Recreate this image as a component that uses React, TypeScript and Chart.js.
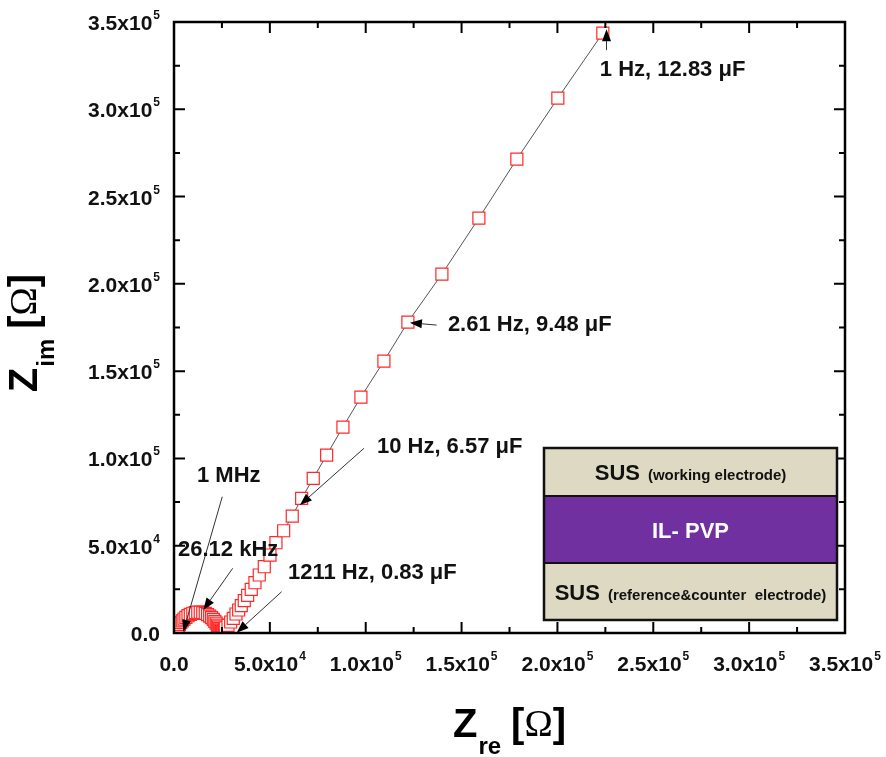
import React, { useEffect, useRef } from "react";
import { Chart, registerables } from "chart.js";

Chart.register(...registerables);

const CANVAS_W = 886;
const CANVAS_H = 757;

// Nyquist data (Z_re, Z_im) in ohm, ordered from high to low frequency
const zRe = [
  1000, 1300, 1700, 2200, 2800, 3500, 4300, 5200, 6200, 7300, 8500, 9800,
  11100, 12400, 13700, 15000, 16300, 17500, 18600, 19600, 20500, 21300, 22000,
  22600, 23100, 23600, 24000, 24400, 24800, 25200, 25600, 26000, 26400,
  26750, 28160, 29560, 30920, 32330, 33730, 35090, 36650, 38430, 40300, 42230,
  44470, 47080, 50050, 53180, 57200, 61680, 66580, 72630, 79620, 88120, 97500,
  109490, 122000, 139740, 159030, 178840, 200220, 223680,
];
const zIm = [
  400, 1500, 2600, 3700, 4800, 5900, 7000, 8000, 9000, 9900, 10700, 11300,
  11700, 11900, 11900, 11700, 11200, 10500, 9700, 8800, 7800, 6700, 5600,
  4500, 3500, 2600, 1800, 1200, 800, 700, 900, 1300, 2000,
  2860, 4410, 6300, 8420, 10880, 13170, 15630, 18500, 21590, 25030, 28800,
  33220, 37970, 44670, 51710, 58580, 66990, 77130, 88590, 101940, 117980, 135160,
  155770, 178110, 205600, 237670, 271460, 306390, 343620,
];

const axisMin = 0;
const axisMax = 350000;
const minorStep = 25000;

const tickValues = [0, 50000, 100000, 150000, 200000, 250000, 300000, 350000];
const tickBase = ["0.0", "5.0x10", "1.0x10", "1.5x10", "2.0x10", "2.5x10", "3.0x10", "3.5x10"];
const tickExp = ["", "4", "5", "5", "5", "5", "5", "5"];

const annotationLabels = [
  "1 Hz, 12.83 \u03bcF",
  "2.61 Hz, 9.48 \u03bcF",
  "10 Hz, 6.57 \u03bcF",
  "1 MHz",
  "26.12 kHz",
  "1211 Hz, 0.83 \u03bcF",
];
const annotationTextRe = [222120, 142860, 105840, 11990, 2090, 59440];
const annotationTextIm = [322430, 176390, 106520, 89910, 47820, 34360];
const arrowTailRe = [225610, 136970, 99070, 25180, 30610, 56150];
const arrowTailIm = [333880, 176390, 105780, 78060, 37050, 23650];
const arrowTipRe = [225610, 123050, 65700, 4850, 15280, 32690];
const arrowTipIm = [345910, 177710, 73310, 740, 13170, 170];

const insetMain = ["SUS", "IL- PVP", "SUS"];
const insetNote = ["(working electrode)", "", "(reference&counter  electrode)"];
const insetFill = ["#ddd9c3", "#7030a0", "#ddd9c3"];
const insetTextColor = ["#111111", "#ffffff", "#111111"];

const SANS = "Arial, 'Liberation Sans', Helvetica, sans-serif";
const SERIF = "'Times New Roman', 'Liberation Serif', 'DejaVu Serif', serif";

const overlayPlugin = {
  id: "overlay",
  beforeDraw(chart: any) {
    const ctx = chart.ctx;
    ctx.save();
    ctx.fillStyle = "#ffffff";
    ctx.fillRect(0, 0, chart.width, chart.height);
    ctx.restore();
  },
  afterDatasetsDraw(chart: any) {
    const ctx: CanvasRenderingContext2D = chart.ctx;
    const a = chart.chartArea;
    const xs = chart.scales.x;
    const ys = chart.scales.y;
    ctx.save();

    // ticks on all four sides, pointing inwards
    ctx.strokeStyle = "#000";
    ctx.lineWidth = 2;
    for (let v = axisMin; v <= axisMax; v += minorStep) {
      const major = v % 50000 === 0;
      const len = major ? 11 : 6;
      const px = xs.getPixelForValue(v);
      const py = ys.getPixelForValue(v);
      ctx.beginPath();
      ctx.moveTo(px, a.bottom);
      ctx.lineTo(px, a.bottom - len);
      ctx.moveTo(px, a.top);
      ctx.lineTo(px, a.top + len);
      ctx.moveTo(a.left, py);
      ctx.lineTo(a.left + len, py);
      ctx.moveTo(a.right, py);
      ctx.lineTo(a.right - len, py);
      ctx.stroke();
    }

    // frame
    ctx.lineWidth = 2.5;
    ctx.strokeRect(a.left, a.top, a.right - a.left, a.bottom - a.top);

    // tick labels
    ctx.fillStyle = "#111";
    const baseFont = `bold 21px ${SANS}`;
    const expFont = `bold 12px ${SANS}`;
    ctx.textBaseline = "alphabetic";
    ctx.textAlign = "left";
    for (let i = 0; i < tickValues.length; i++) {
      ctx.font = baseFont;
      const wb = ctx.measureText(tickBase[i]).width;
      ctx.font = expFont;
      const we = tickExp[i] ? ctx.measureText(tickExp[i]).width + 1 : 0;
      // x labels
      const px = xs.getPixelForValue(tickValues[i]);
      const sx = px - (wb + we) / 2;
      const by = a.bottom + 38;
      ctx.font = baseFont;
      ctx.fillText(tickBase[i], sx, by);
      if (tickExp[i]) {
        ctx.font = expFont;
        ctx.fillText(tickExp[i], sx + wb + 1, by - 11);
      }
      // y labels
      const py = ys.getPixelForValue(tickValues[i]);
      const rx = a.left - 14;
      const ybx = rx - (wb + we);
      ctx.font = baseFont;
      ctx.fillText(tickBase[i], ybx, py + 8);
      if (tickExp[i]) {
        ctx.font = expFont;
        ctx.fillText(tickExp[i], ybx + wb + 1, py - 3);
      }
    }

    // inset (device structure)
    const ix = a.left + 370;
    const iy = a.top + 426;
    const iw = 293;
    const layerH = [48, 67, 57];
    let cy = iy;
    for (let i = 0; i < insetMain.length; i++) {
      ctx.fillStyle = insetFill[i];
      ctx.fillRect(ix, cy, iw, layerH[i]);
      ctx.font = `bold 22px ${SANS}`;
      const wm = ctx.measureText(insetMain[i]).width;
      ctx.font = `bold 15px ${SANS}`;
      const gap = insetNote[i] ? 8 : 0;
      const wn = insetNote[i] ? ctx.measureText(insetNote[i]).width : 0;
      const sx = ix + iw / 2 - (wm + gap + wn) / 2;
      const ty = cy + layerH[i] / 2 + 8;
      ctx.fillStyle = insetTextColor[i];
      ctx.font = `bold 22px ${SANS}`;
      ctx.fillText(insetMain[i], sx, ty);
      if (insetNote[i]) {
        ctx.font = `bold 15px ${SANS}`;
        ctx.fillText(insetNote[i], sx + wm + gap, ty);
      }
      cy += layerH[i];
    }
    ctx.strokeStyle = "#111";
    ctx.lineWidth = 2;
    ctx.beginPath();
    ctx.moveTo(ix, iy + layerH[0]);
    ctx.lineTo(ix + iw, iy + layerH[0]);
    ctx.moveTo(ix, iy + layerH[0] + layerH[1]);
    ctx.lineTo(ix + iw, iy + layerH[0] + layerH[1]);
    ctx.stroke();
    ctx.lineWidth = 2.5;
    ctx.strokeRect(ix, iy, iw, layerH[0] + layerH[1] + layerH[2]);

    // annotations with arrows
    for (let i = 0; i < annotationLabels.length; i++) {
      const tx = xs.getPixelForValue(arrowTailRe[i]);
      const ty = ys.getPixelForValue(arrowTailIm[i]);
      const hx = xs.getPixelForValue(arrowTipRe[i]);
      const hy = ys.getPixelForValue(arrowTipIm[i]);
      const ang = Math.atan2(hy - ty, hx - tx);
      const headLen = 12;
      const headW = 4.5;
      const bx = hx - headLen * Math.cos(ang);
      const bY = hy - headLen * Math.sin(ang);
      ctx.strokeStyle = "#333";
      ctx.lineWidth = 1;
      ctx.beginPath();
      ctx.moveTo(tx, ty);
      ctx.lineTo(bx, bY);
      ctx.stroke();
      ctx.fillStyle = "#000";
      ctx.beginPath();
      ctx.moveTo(hx, hy);
      ctx.lineTo(bx + headW * Math.sin(ang), bY - headW * Math.cos(ang));
      ctx.lineTo(bx - headW * Math.sin(ang), bY + headW * Math.cos(ang));
      ctx.closePath();
      ctx.fill();

      ctx.fillStyle = "#111";
      ctx.font = `bold 22px ${SANS}`;
      ctx.textBaseline = "middle";
      ctx.fillText(
        annotationLabels[i],
        xs.getPixelForValue(annotationTextRe[i]),
        ys.getPixelForValue(annotationTextIm[i])
      );
      ctx.textBaseline = "alphabetic";
    }

    // axis titles
    const drawTitle = (sub: string) => {
      ctx.font = `bold 40px ${SANS}`;
      const wZ = ctx.measureText("Z").width;
      ctx.font = `bold 24px ${SANS}`;
      const wS = ctx.measureText(sub).width;
      ctx.font = `bold 40px ${SANS}`;
      const wB = ctx.measureText("[").width;
      ctx.font = `38px ${SERIF}`;
      const wO = ctx.measureText("\u03a9").width;
      const space = 10;
      const total = wZ + 1 + wS + space + wB + wO + wB;
      let x0 = -total / 2;
      ctx.fillStyle = "#000";
      ctx.font = `bold 40px ${SANS}`;
      ctx.fillText("Z", x0, 0);
      x0 += wZ + 1;
      ctx.font = `bold 24px ${SANS}`;
      ctx.fillText(sub, x0, 17);
      x0 += wS + space;
      ctx.font = `bold 40px ${SANS}`;
      ctx.fillText("[", x0, 0);
      x0 += wB;
      ctx.font = `38px ${SERIF}`;
      ctx.fillText("\u03a9", x0, -1);
      x0 += wO;
      ctx.font = `bold 40px ${SANS}`;
      ctx.fillText("]", x0, 0);
    };
    ctx.save();
    ctx.translate((a.left + a.right) / 2, 737);
    drawTitle("re");
    ctx.restore();
    ctx.save();
    ctx.translate(37, 333);
    ctx.rotate(-Math.PI / 2);
    drawTitle("im");
    ctx.restore();

    ctx.restore();
  },
};

export default function App() {
  const canvasRef = useRef<HTMLCanvasElement | null>(null);

  useEffect(() => {
    document.body.style.margin = "0";
    const canvas = canvasRef.current;
    if (!canvas) return;
    const points = zRe.map((v, i) => ({ x: v, y: zIm[i] }));
    const chart = new Chart(canvas, {
      type: "scatter",
      data: {
        datasets: [
          {
            data: points,
            showLine: true,
            borderColor: "#555555",
            borderWidth: 1,
            pointStyle: "rect",
            pointRadius: 8.5,
            pointHoverRadius: 8.5,
            pointBorderWidth: 1.2,
            pointBorderColor: "rgb(255,40,40)",
            pointBackgroundColor: "#ffffff",
          },
        ],
      },
      options: {
        animation: false,
        responsive: false,
        devicePixelRatio: 1,
        events: [],
        layout: { padding: { left: 174, top: 22, right: 41, bottom: 124 } },
        plugins: {
          legend: { display: false },
          tooltip: { enabled: false },
          title: { display: false },
        },
        scales: {
          x: { type: "linear", display: false, min: axisMin, max: axisMax },
          y: { type: "linear", display: false, min: axisMin, max: axisMax },
        },
      },
      plugins: [overlayPlugin],
    });
    return () => chart.destroy();
  }, []);

  return (
    <div style={{ position: "absolute", left: 0, top: 0, width: CANVAS_W, height: CANVAS_H }}>
      <canvas ref={canvasRef} width={CANVAS_W} height={CANVAS_H} style={{ display: "block" }} />
    </div>
  );
}
